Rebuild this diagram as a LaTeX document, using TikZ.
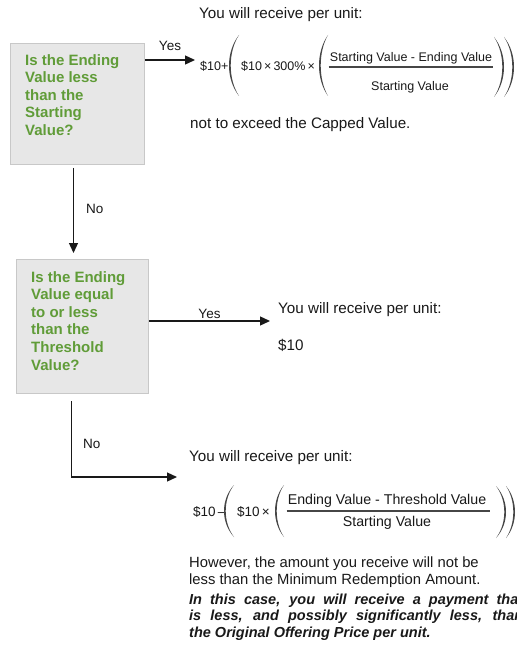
\documentclass[tikz,border=0pt]{standalone}
\usepackage{fontspec}
\setmainfont{Liberation Sans}
\usetikzlibrary{arrows.meta,calc}
\definecolor{qgreen}{RGB}{96,156,56}
\definecolor{boxfill}{RGB}{231,231,231}
\definecolor{boxline}{RGB}{200,200,200}
\definecolor{ink}{RGB}{25,25,25}
\definecolor{parink}{RGB}{70,70,70}
% left parenthesis: #1 leftmost x, #2 tip x, #3 top y, #4 bottom y
\newcommand\drawlpar[4]{%
  \pgfmathsetmacro\myco{#2-1.333*(#2-#1)}%
  \pgfmathsetmacro\myci{#2-1.333*(#2-#1-1.7)}%
  \pgfmathsetmacro\myya{#3+0.28*(#4-#3)}%
  \pgfmathsetmacro\myyb{#4-0.28*(#4-#3)}%
  \fill[parink] (#2,#3) .. controls (\myco,\myya) and (\myco,\myyb) .. (#2,#4)
     .. controls (\myci,\myyb) and (\myci,\myya) .. cycle;}
% right parenthesis: #1 tip x, #2 rightmost x, #3 top y, #4 bottom y
\newcommand\drawrpar[4]{%
  \pgfmathsetmacro\myco{#1+1.333*(#2-#1)}%
  \pgfmathsetmacro\myci{#1+1.333*(#2-#1-1.7)}%
  \pgfmathsetmacro\myya{#3+0.28*(#4-#3)}%
  \pgfmathsetmacro\myyb{#4-0.28*(#4-#3)}%
  \fill[parink] (#1,#3) .. controls (\myco,\myya) and (\myco,\myyb) .. (#1,#4)
     .. controls (\myci,\myyb) and (\myci,\myya) .. cycle;}
\begin{document}
\begin{tikzpicture}[x=1pt,y=-1pt,
  qbox/.style={draw=boxline, fill=boxfill, line width=1pt, inner sep=0, anchor=north west},
  qtext/.style={anchor=north west, inner sep=0, align=left, text=qgreen, font=\bfseries\fontsize{15}{17.6}\selectfont},
  body/.style={anchor=west, inner sep=0, align=left, text=ink, font=\fontsize{15.2}{17}\selectfont},
  warn/.style={anchor=west, inner sep=0, text width=334pt, align=justify, text=ink, font=\bfseries\itshape\fontsize{14.5}{16.5}\selectfont},
  fa/.style={anchor=west, inner sep=0, text=ink, font=\fontsize{12.5}{14}\selectfont},
  fb/.style={inner sep=0, text=ink, font=\fontsize{12.5}{14}\selectfont},
  ga/.style={anchor=west, inner sep=0, text=ink, font=\fontsize{13.5}{15}\selectfont},
  gb/.style={inner sep=0, text=ink, font=\fontsize{14.2}{16}\selectfont},
  bar/.style={draw=parink, line width=1.2pt},
  conn/.style={draw=ink, line width=1.3pt},
  arr/.style={conn, -{Triangle[length=10pt,width=9pt]}},
  lab/.style={inner sep=0, text=ink, font=\fontsize{13.5}{15}\selectfont}]
\useasboundingbox (0,0) rectangle (516,660);
\clip (0,0) rectangle (516,660);
\fill[white] (0,0) rectangle (516,660);

% question boxes
\node[qbox, minimum width=134pt, minimum height=121pt] (q1) at (10,43) {};
\node[qtext] (q1t) at (25,54) {Is the Ending\\Value less\\than the\\Starting\\Value?};
\node[qbox, minimum width=132pt, minimum height=134pt] (q2) at (16,259) {};
\node[qtext] (q2t) at (31,271) {Is the Ending\\Value equal\\to or less\\than the\\Threshold\\Value?};

% outcome 1
\node[body] (t1) at (199,15) {You will receive per unit:};
\node[fa] (f1a) at (200,66) {\$10+};
\drawlpar{229}{239}{35}{96}
\node[fa] (f1b) at (241,66) {\$10\,×\,300\%\,×};
\drawlpar{319}{328}{35}{96}
\node[fb] (n1) at (411,58) {Starting Value - Ending Value};
\node[fb] (d1) at (410,87) {Starting Value};
\draw[bar] ([xshift=-1pt]n1.west |- 0,67) -- ([xshift=1pt]n1.east |- 0,67);
\drawrpar{494}{504}{37}{97}
\drawrpar{504}{514}{37}{97}
\node[body] (t1b) at (190,125) {not to exceed the Capped Value.};

% outcome 2
\node[body] (r2) at (278,310) {You will receive per unit:};
\node[body] (d2) at (278,345) {\$10};

% outcome 3
\node[body] (r3) at (189,458) {You will receive per unit:};
\node[ga] (f2a) at (193,512) {\$10\,–};
\drawlpar{224}{234}{485}{537}
\node[ga] (f2b) at (237,512) {\$10\,×};
\drawlpar{275}{284}{485}{537}
\node[gb] (n2) at (387,501) {Ending Value - Threshold Value};
\node[gb] (dd2) at (387,523) {Starting Value};
\draw[bar] ([xshift=-1pt]n2.west |- 0,511) -- ([xshift=4pt]n2.east |- 0,511);
\drawrpar{496}{506}{486}{538}
\drawrpar{506}{515}{486}{538}
\node[body, font=\fontsize{14.8}{17}\selectfont] (h1) at (189,572) {However, the amount you receive will not be\\less than the Minimum Redemption Amount.};
\node[warn] (w1) at (189,617) {In this case, you will receive a payment that\linebreak is less, and possibly significantly less, than\linebreak the Original Offering Price per unit.};

% connectors
\coordinate (a1) at (195,60);
\draw[arr] (q1.east |- a1) -- (a1)
  node[midway, above=9pt, lab] {Yes};
\draw[arr, shorten <=3pt, shorten >=6pt] ([xshift=-4pt]q1.south) -- ([xshift=-4pt]q1.south |- q2.north)
  node[pos=0.47, right=12pt, lab] {No};
\coordinate (a2) at (270,321);
\draw[arr] (q2.east |- a2) -- (a2)
  node[midway, above=2pt, lab] {Yes};
\coordinate (a3) at (177,477);
\draw[arr, shorten <=7pt] ([xshift=-11pt]q2.south) |- (a3)
  node[pos=0.3, right=11pt, lab] {No};
\end{tikzpicture}
\end{document}
